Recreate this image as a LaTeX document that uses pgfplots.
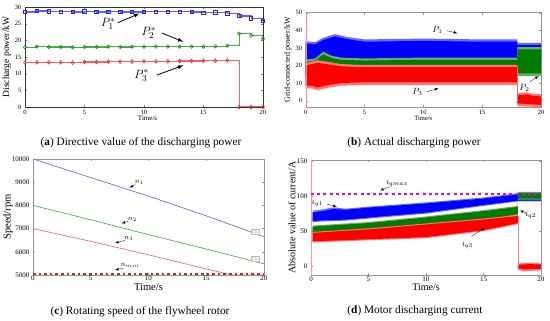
\documentclass[border=0pt]{standalone}
\usepackage{fontspec}
\setmainfont{Liberation Serif}
\usepackage{pgfplots}
\pgfplotsset{compat=1.18}
\definecolor{aBlueL}{RGB}{95,95,255}
\definecolor{aBlueD}{RGB}{40,40,235}
\definecolor{aGreenL}{RGB}{70,175,70}
\definecolor{aGreenD}{RGB}{30,140,30}
\definecolor{aRedL}{RGB}{255,95,95}
\definecolor{aRedD}{RGB}{240,40,40}
\definecolor{bBlue}{RGB}{0,0,255}
\definecolor{bGreen}{RGB}{0,125,0}
\definecolor{bRed}{RGB}{255,0,0}
\definecolor{cBlue}{RGB}{110,110,255}
\definecolor{cGreen}{RGB}{80,180,80}
\definecolor{cRed}{RGB}{255,110,110}
\definecolor{cMin}{RGB}{190,45,20}
\definecolor{dMag}{RGB}{230,0,230}
\definecolor{frame}{RGB}{150,150,150}
\pgfplotsset{
  base/.style={scale only axis, anchor=north west, xmin=0, xmax=20, xtick={0,5,10,15,20},
    tick align=inside, major tick length=2pt, clip mode=individual,
    /pgf/number format/assume math mode=true, /pgf/number format/1000 sep={},
    scaled ticks=false, xlabel={Time/s}},
}
\begin{document}
\begin{tikzpicture}[x=1pt,y=1pt]
\useasboundingbox (0pt,0pt) rectangle (550pt,-321pt);
% ---------------- (a)
\begin{axis}[base, at={(25pt,-7pt)}, width=238pt, height=100pt,
  ymin=0, ymax=30, ytick={0,5,...,30},
  ticklabel style={font=\fontsize{6.5}{7}\selectfont},
  xticklabel style={yshift=0.5pt},
  ylabel={Discharge power/kW},
  ylabel style={font=\fontsize{9.5}{10}\selectfont, at={(axis description cs:-0.076,0.5)}, anchor=center},
  xlabel style={font=\fontsize{7}{8}\selectfont, at={(axis description cs:0.515,-0.115)}, anchor=center},
  axis line style={black!80}]
\addplot[const plot, aBlueL, line width=1.1pt, mark=square, mark size=1.7pt, mark options={aBlueD, line width=0.6pt, solid}] coordinates {
(0,28.5)(1,28.8)(2,28.7)(3,28.6)(4,28.5)(5,28.7)(6,28.5)(7,28.6)(8,28.5)(9,28.5)(10,28.6)(11,28.6)(12,28.6)(13,28.6)(14,28.5)(15,28.3)(16,28.4)(17,28.1)(18,27.3)(19,26.6)(20,25.9)};
\addplot[const plot, aGreenL, line width=1.1pt, mark=o, mark size=1.7pt, mark options={aGreenD, line width=0.6pt, solid}] coordinates {
(0,17.9)(1,18.1)(2,18.0)(3,18.0)(4,17.9)(5,18.0)(6,18.0)(7,18.1)(8,18.0)(9,18.1)(10,18.1)(11,18.1)(12,18.1)(13,18.1)(14,18.1)(15,18.1)(16,18.2)(17,18.4)(18,22.0)(19,21.4)(20,20.5)};
\addplot[const plot, aRedL, line width=1.1pt, mark=diamond, mark size=1.9pt, mark options={aRedD, line width=0.6pt, solid}] coordinates {
(0,13.3)(1,13.4)(2,13.4)(3,13.4)(4,13.3)(5,13.5)(6,13.5)(7,13.6)(8,13.6)(9,13.6)(10,13.7)(11,13.7)(12,13.7)(13,13.8)(14,13.8)(15,13.9)(16,13.9)(17,14.0)(18,0)(19,0)(20,0)};
\node[font=\fontsize{13}{14}\selectfont] at (axis cs:7.0,25.0) {$P_1^*$};
\draw[-latex, line width=0.8pt] (axis cs:7.8,25.3) -- (axis cs:9.6,28.0);
\node[font=\fontsize{13}{14}\selectfont] at (axis cs:10.4,22.2) {$P_2^*$};
\draw[-latex, line width=0.8pt] (axis cs:11.5,22.2) -- (axis cs:13.3,19.6);
\node[font=\fontsize{13}{14}\selectfont] at (axis cs:9.8,9.5) {$P_3^*$};
\draw[-latex, line width=0.8pt] (axis cs:11.1,9.6) -- (axis cs:13.3,12.5);
\end{axis}
% ---------------- (b)
\begin{axis}[base, at={(305.7pt,-12.7pt)}, width=235.3pt, height=94.3pt,
  ymin=-3.6, ymax=50, ytick={0,10,...,50},
  ticklabel style={font=\fontsize{6.5}{7}\selectfont},
  ylabel={Grid-connected power/kW},
  ylabel style={font=\fontsize{8}{9}\selectfont, at={(axis description cs:-0.075,0.5)}, anchor=center},
  xlabel style={font=\fontsize{6.5}{7}\selectfont, at={(axis description cs:0.5,-0.125)}, anchor=center},
  axis line style={frame}, tick style={frame}]
% blue
\addplot[fill=bBlue!60, draw=none] coordinates {(0,33.8)(0.8,33.2)(1.5,35.8)(2.5,37.8)(3.5,36.2)(5,34.8)(10,35.3)(15,34.8)(18,34.8)(18,32.8)(20,32.8)(20,20)(0,20)};
\addplot[fill=bBlue, draw=none] coordinates {(0,32.5)(0.8,32)(1.5,34.5)(2.5,36.5)(3.5,35)(5,33.5)(10,34)(15,33.5)(18,33.5)(18,31.5)(20,31.5)(20,21)(0,21)};
% green
\addplot[fill=bGreen!60, draw=none] coordinates {(0,23.3)(0.8,24)(1.5,27.8)(2.2,25.5)(3,24.5)(5,24)(10,24.5)(15,24.5)(18,24.5)(18,30.5)(20,30.5)(20,14)(18,14)(18,15)(0,15)};
\addplot[fill=bGreen, draw=none] coordinates {(0,22)(0.8,22.7)(1.5,26.3)(2.2,24.2)(3,23.2)(5,22.8)(10,23.2)(15,23.2)(18,23.2)(18,29.2)(20,29.2)(20,15.5)(18,15.5)(18,16)(0,16)};
% red
\addplot[fill=bRed!55, draw=none] coordinates {(0,21.3)(1,23)(2,22)(3,20.8)(5,20.3)(10,20.3)(15,20.3)(18,20.3)(18,9)(15,9)(10,9)(5,9)(3,8.5)(2,7.5)(1,6)(0.5,7)(0,7)};
\addplot[fill=bRed, draw=none] coordinates {(0,20)(1,21.5)(2,20.5)(3,19.5)(5,19)(10,19)(15,19)(18,19)(18,10.5)(15,10.5)(10,10.5)(5,10.5)(3,10)(2,9)(1,7.5)(0.5,8.5)(0,8.5)};
\addplot[fill=bRed!55, draw=none] coordinates {(18,4.2)(18.8,4.8)(19.3,3.8)(20,3.8)(20,-3.6)(18,-3.2)};
\addplot[fill=bRed, draw=none] coordinates {(18,3)(18.8,3.6)(19.3,2.8)(20,2.4)(20,-2.4)(19,-2)(18,-1.5)};
\addplot[bRed!60, line width=0.6pt] coordinates {(18,19)(18,0)};
\addplot[bRed!45, line width=0.8pt] coordinates {(0.02,-3.6)(0.02,50)};
\node[font=\fontsize{9}{10}\selectfont] at (axis cs:11.2,40.3) {$P_1$};
\draw[-latex, line width=0.3pt] (axis cs:12.0,39.8) -- (axis cs:12.9,38.3);
\node[font=\fontsize{9}{10}\selectfont] at (axis cs:9.5,5.0) {$P_3$};
\draw[-latex, line width=0.3pt] (axis cs:10.3,5.1) -- (axis cs:11.3,7.0);
\node[font=\fontsize{9}{10}\selectfont] at (axis cs:18.6,7.5) {$P_2$};
\draw[-latex, line width=0.3pt] (axis cs:19.05,10.8) -- (axis cs:19.8,14.0);
\end{axis}
% ---------------- (c)
\begin{axis}[base, at={(33pt,-159pt)}, width=231pt, height=116pt,
  ymin=5000, ymax=10000, ytick={5000,6000,...,10000},
  ticklabel style={font=\fontsize{7}{8}\selectfont},
  xticklabel style={yshift=2.5pt},
  ylabel={Speed/rpm},
  ylabel style={font=\fontsize{10.5}{12}\selectfont, at={(axis description cs:-0.108,0.5)}, anchor=center},
  xlabel style={font=\fontsize{10.5}{12}\selectfont, at={(axis description cs:0.5,-0.10)}, anchor=center},
  axis line style={frame}, tick style={frame}]
\addplot[cBlue, line width=0.7pt] coordinates {(0,10000)(5,9200)(10,8400)(15,7550)(20,6650)};
\addplot[cGreen, line width=0.7pt] coordinates {(0,8000)(5,7380)(10,6740)(15,6120)(20,5480)};
\addplot[cRed, line width=0.7pt] coordinates {(0,7000)(5,6450)(10,5870)(15,5260)(17.3,5000)(20,5000)};
\addplot[cMin, line width=2.4pt, dash pattern=on 2.7pt off 2.9pt] coordinates {(0,5040)(20,5040)};
\node[font=\fontsize{7}{8}\selectfont] at (axis cs:9.2,8990) {$n_1$};
\draw[-latex, line width=0.3pt] (axis cs:8.85,8900) -- (axis cs:8.35,8760);
\node[font=\fontsize{7}{8}\selectfont] at (axis cs:8.6,7400) {$n_2$};
\draw[-latex, line width=0.3pt] (axis cs:8.25,7320) -- (axis cs:7.65,7220);
\node[font=\fontsize{7}{8}\selectfont] at (axis cs:8.3,6560) {$n_3$};
\draw[-latex, line width=0.3pt] (axis cs:7.95,6490) -- (axis cs:7.1,6380);
\node[font=\fontsize{7}{8}\selectfont] at (axis cs:8.4,5420) {$n_{min}$};
\draw[-latex, line width=0.3pt] (axis cs:7.8,5290) -- (axis cs:7.1,5220);
\node[draw=black!25, fill=yellow!6, inner sep=0.5pt, text=black!60, font=\fontsize{2}{2.3}\selectfont, align=left] at (axis cs:19.25,6870) {X: 20\\Y: 6659};
\node[draw=black!25, fill=yellow!6, inner sep=0.5pt, text=black!60, font=\fontsize{2}{2.3}\selectfont, align=left] at (axis cs:19.25,5710) {X: 20\\Y: 5420};
\end{axis}
% ---------------- (d)
\begin{axis}[base, at={(311pt,-160pt)}, width=230pt, height=115pt,
  ymin=-12, ymax=152, ytick={0,50,100,150},
  ticklabel style={font=\fontsize{7}{8}\selectfont},
  xticklabel style={yshift=1.5pt},
  ylabel={Absolute value of current/A},
  ylabel style={font=\fontsize{10}{11}\selectfont, at={(axis description cs:-0.083,0.5)}, anchor=center},
  xlabel style={font=\fontsize{10}{11}\selectfont, at={(axis description cs:0.5,-0.11)}, anchor=center},
  axis line style={frame}, tick style={frame}]
% blue
\addplot[fill=bBlue!60, draw=none] coordinates {(0.15,79.5)(1,81.5)(2,84.5)(3,82.5)(5,85.5)(10,91.5)(15,98.5)(18,104.5)(18,106)(20,106)(20,93)(18,93)(15,86.5)(10,75.5)(5,68.5)(3,65.5)(1,64.5)(0.15,63.5)};
\addplot[fill=bBlue, draw=none] coordinates {(0.15,77)(1,79)(2,82)(3,81)(5,84)(10,90)(15,97)(18,103)(18,105)(20,105)(20,94)(18,94)(15,88)(10,77)(5,70)(3,67)(1,66)(0.15,65)};
% green
\addplot[fill=bGreen!60, draw=none] coordinates {(0.15,58.5)(5,63.5)(10,71.5)(15,80.5)(18,86.5)(18,106.5)(20,106.5)(20,95.5)(18,95.5)(18,73.5)(15,64.5)(10,55.5)(5,50.5)(0.15,46.5)};
\addplot[fill=bGreen, draw=none] coordinates {(0.15,57)(5,62)(10,70)(15,79)(18,85)(18,105)(20,105)(20,97)(18,97)(18,75)(15,66)(10,57)(5,52)(0.15,48)};
% red
\addplot[fill=bRed!55, draw=none] coordinates {(0.15,49.5)(5,54.5)(10,61.5)(15,68.5)(18,73.5)(18,60.5)(15,50.5)(10,40.5)(5,37.5)(0.15,34.5)};
\addplot[fill=bRed, draw=none] coordinates {(0.15,48)(5,53)(10,60)(15,67)(18,72)(18,62)(15,52)(10,42)(5,39)(0.15,36)};
\addplot[fill=bRed!55, draw=none] coordinates {(18,4.5)(19,5.5)(20,4.5)(20,-5.5)(18.5,-6.5)(18,-4.5)};
\addplot[fill=bRed, draw=none] coordinates {(18,2.5)(19,3.5)(20,3)(20,-3)(18.5,-4)(18,-2)};
\addplot[bRed!50, line width=0.6pt] coordinates {(18.05,72)(18.05,0)};
\addplot[bRed!40, line width=0.8pt] coordinates {(0.03,-12)(0.03,152)};
\addplot[dMag, line width=2.4pt, dash pattern=on 2.9pt off 3.3pt] coordinates {(0,103.5)(20,103.5)};
\node[font=\fontsize{8}{9}\selectfont] at (axis cs:7.5,119) {$i_{qmax}$};
\draw[-latex, line width=0.3pt] (axis cs:6.9,114) -- (axis cs:6.0,108.5);
\node[font=\fontsize{8}{9}\selectfont] at (axis cs:0.55,91) {$i_{q1}$};
\draw[-latex, line width=0.3pt] (axis cs:1.4,89) -- (axis cs:2.25,85.5);
\node[font=\fontsize{8}{9}\selectfont] at (axis cs:19.1,73.5) {$i_{q2}$};
\draw[-latex, line width=0.3pt] (axis cs:18.75,76.5) -- (axis cs:18.15,80);
\node[font=\fontsize{8}{9}\selectfont] at (axis cs:13.6,31) {$i_{q3}$};
\draw[-latex, line width=0.3pt] (axis cs:13.95,43) -- (axis cs:15.1,55);
\end{axis}
% captions
\node[font=\fontsize{11.3}{12}\selectfont] at (141pt,-143pt) {(\textbf{a}) Directive value of the discharging power};
\node[font=\fontsize{11.3}{12}\selectfont] at (414pt,-143pt) {(\textbf{b}) Actual discharging power};
\node[font=\fontsize{11.3}{12}\selectfont] at (140pt,-312pt) {(\textbf{c}) Rotating speed of the flywheel rotor};
\node[font=\fontsize{11.3}{12}\selectfont] at (415pt,-311pt) {(\textbf{d}) Motor discharging current};
\end{tikzpicture}
\end{document}
